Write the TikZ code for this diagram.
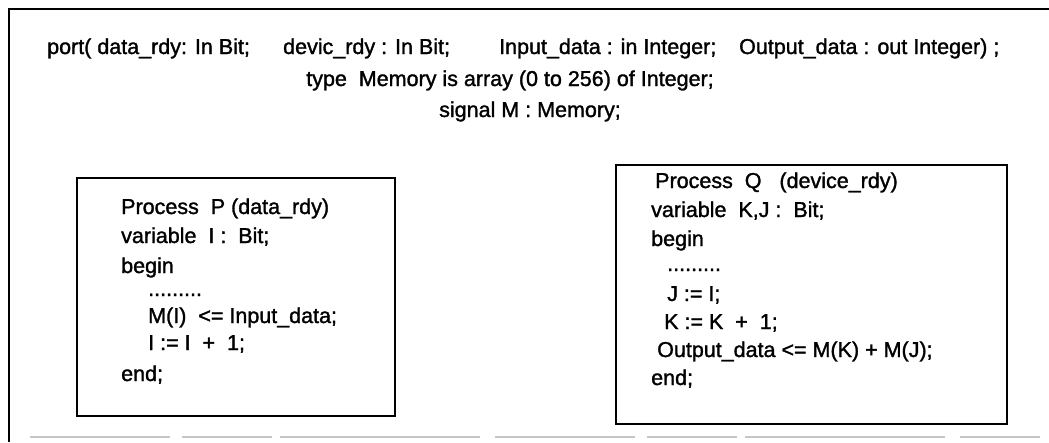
\documentclass[tikz,border=0pt]{standalone}
\usepackage{fontspec}
\setmainfont{Liberation Sans}
\newfontfamily\codefont{Liberation Sans}[FakeBold=1.4]
\newcommand{\seg}[2]{\makebox[#1][l]{#2}}
\begin{document}
\begin{tikzpicture}[x=1pt,y=-1pt,
  frame/.style={line width=2.2pt,black},
  procbox/.style={line width=1.8pt,black},
  code/.style={anchor=base west,inner sep=0pt,font=\codefont\fontsize{21.5}{25}\selectfont},
  decl/.style={anchor=base,inner sep=0pt,font=\codefont\fontsize{21.5}{25}\selectfont}]
\useasboundingbox (0,0) rectangle (1049,442);
% outer frame: top and left rules, faint broken rule at the bottom
\draw[frame] (1049,9) -- (9,9) -- (9,442);
\draw[gray!45,line width=1.5pt,dash pattern=on 140pt off 12pt on 90pt off 8pt on 200pt off 15pt]
  (30,437) -- (1040,437);
% port and type declarations
\node[code] (port) at (47,54) {\seg{236pt}{port( data\_rdy: In Bit;}\seg{216pt}{devic\_rdy : In Bit;}\seg{240pt}{Input\_data : in Integer;}Output\_data : out Integer) ;};
\node[decl] (type) at (510,86) {type\ \ Memory is array (0 to 256) of Integer;};
\node[decl] (sig) at (530,117) {signal M : Memory;};
% process P
\draw[procbox] (77,178) rectangle (395,416);
\node[code] (p1) at (121,214) {Process\ \ P (data\_rdy)};
\node[code] (p2) at (121,243) {variable\ \ I :\ \ Bit;};
\node[code] (p3) at (121,273) {begin};
\node[code] (p4) at (148,296) {.........};
\node[code] (p5) at (148,323) {M(I)\ \ <= Input\_data;};
\node[code] (p6) at (148,350) {I := I\ \ +\ \ 1;};
\node[code] (p7) at (121,381) {end;};
% process Q
\draw[procbox] (616,165) rectangle (1007,424);
\node[code] (q1) at (655,188) {Process\ \ Q\ \ \ (device\_rdy)};
\node[code] (q2) at (651,217) {variable\ \ K,J :\ \ Bit;};
\node[code] (q3) at (651,246) {begin};
\node[code] (q4) at (667,271) {.........};
\node[code] (q5) at (667,301) {J := I;};
\node[code] (q6) at (664,329) {K := K\ \ +\ \ 1;};
\node[code] (q7) at (657,357) {Output\_data <= M(K) + M(J);};
\node[code] (q8) at (651,385) {end;};
\end{tikzpicture}
\end{document}
